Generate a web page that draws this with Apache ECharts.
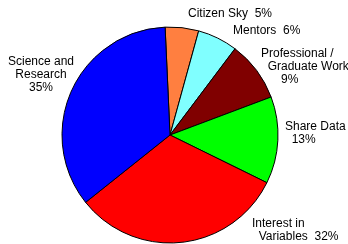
<!DOCTYPE html>
<html>
<head>
<meta charset="utf-8">
<script src="https://cdn.jsdelivr.net/npm/echarts@6/dist/echarts.min.js"></script>
<style>
html, body { margin: 0; padding: 0; background: #fff; }
#main { width: 348px; height: 244px; }
</style>
</head>
<body>
<div id="main"></div>
<script>
// slices, clockwise from the top
var names = ['Citizen Sky', 'Mentors', 'Professional / Graduate Work', 'Share Data', 'Interest in Variables', 'Science and Research'];
var values = [5, 6, 9, 13, 32, 35];
var colors = ['#ff7f40', '#80ffff', '#800000', '#00ff00', '#ff0000', '#0000ff'];
var labels = [
	'Citizen Sky  5%',
	'Mentors  6%',
	'Professional /\n  Graduate Work\n      9%',
	'Share Data\n  13%',
	'Interest in\n  Variables  32%',
	'Science and\nResearch\n35%'
];
// label anchors [x, y, align]
var labelPos = [
	[188, 14, 'left'],
	[233, 31, 'left'],
	[261, 67, 'left'],
	[285, 133, 'left'],
	[252, 230, 'left'],
	[41, 75, 'center']
];

var data = [];
for (var i = 0; i < names.length; i++) {
	data.push({ name: names[i], value: values[i], itemStyle: { color: colors[i] } });
}

var option = {
	backgroundColor: '#fff',
	animation: false,
	series: [{
		type: 'pie',
		center: [170, 135],
		radius: 108,
		startAngle: 92.6,
		clockwise: true,
		avoidLabelOverlap: false,
		itemStyle: { borderColor: '#000', borderWidth: 1 },
		label: {
			show: true,
			position: 'outside',
			color: '#000',
			fontFamily: 'Liberation Sans',
			fontSize: 12,
			lineHeight: 13,
			formatter: function (p) { return labels[p.dataIndex]; }
		},
		labelLine: { show: false },
		labelLayout: function (p) {
			var lp = labelPos[p.dataIndex];
			return { x: lp[0], y: lp[1], align: lp[2], verticalAlign: 'middle' };
		},
		emphasis: { disabled: true },
		data: data
	}]
};

var myChart = echarts.init(document.getElementById('main'));
myChart.setOption(option);
</script>
</body>
</html>
